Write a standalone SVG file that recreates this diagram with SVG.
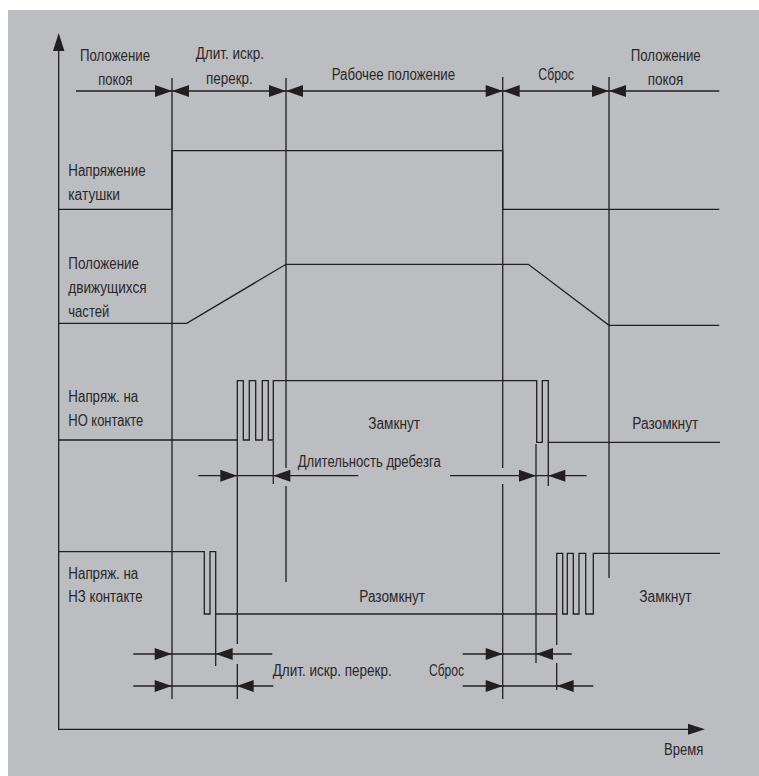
<svg xmlns="http://www.w3.org/2000/svg" xmlns:xlink="http://www.w3.org/1999/xlink" width="759" height="776" viewBox="0 0 759 776">
<style>
.ln{fill:none;stroke:#231f20;stroke-width:1.3}
.vl{fill:none;stroke:#2b2829;stroke-width:1.4}
.t{font-family:"Liberation Sans",Arial,sans-serif;font-size:16px;fill:#2a2728}
.ah{fill:#231f20}
</style>
<defs>
<path id="ar" class="ah" d="M0,0 L-17,-6 L-17,6 Z"/>
<path id="al" class="ah" d="M0,0 L17,-6 L17,6 Z"/>
</defs>
<rect x="8" y="10" width="751" height="766" fill="#bcbdc1"/>

<g id="axes">
<path class="ln" d="M58.7,50 V729.3 H690"/>
<polygon class="ah" points="58.7,33 53,51 64.4,51"/>
<polygon class="ah" points="705,729.3 688,723.8 688,734.8"/>
<text class="t" x="664" y="755" textLength="39.3" lengthAdjust="spacingAndGlyphs">Время</text>
</g>

<g id="phases">
<path class="ln" d="M76,91 H719.3"/>
<use href="#ar" transform="translate(172,91)"/>
<use href="#al" transform="translate(172,91)"/>
<use href="#ar" transform="translate(286,91)"/>
<use href="#al" transform="translate(286,91)"/>
<use href="#ar" transform="translate(502.7,91)"/>
<use href="#al" transform="translate(502.7,91)"/>
<use href="#ar" transform="translate(609,91)"/>
<use href="#al" transform="translate(609,91)"/>
<text class="t" x="80" y="61" textLength="70" lengthAdjust="spacingAndGlyphs">Положение</text>
<text class="t" x="98.3" y="85" textLength="34.3" lengthAdjust="spacingAndGlyphs">покоя</text>
<text class="t" x="195.7" y="59" textLength="68.3" lengthAdjust="spacingAndGlyphs">Длит. искр.</text>
<text class="t" x="206" y="84" textLength="46.7" lengthAdjust="spacingAndGlyphs">перекр.</text>
<text class="t" x="331.7" y="80" textLength="123.3" lengthAdjust="spacingAndGlyphs">Рабочее положение</text>
<text class="t" x="538.3" y="80" textLength="35.7" lengthAdjust="spacingAndGlyphs">Сброс</text>
<text class="t" x="630.7" y="61" textLength="70" lengthAdjust="spacingAndGlyphs">Положение</text>
<text class="t" x="647.7" y="85" textLength="35.6" lengthAdjust="spacingAndGlyphs">покоя</text>
</g>

<g id="verticals">
<path class="vl" d="M172,78 V699"/>
<path class="vl" d="M286,78 V468 M286,486 V582"/>
<path class="vl" d="M502.7,77 V468 M502.7,484 V699"/>
<path class="vl" d="M609,77 V578"/>
<path class="ln" d="M237.3,440 V644 M237.3,664 V699"/>
<path class="ln" d="M273.3,441 V484"/>
<path class="ln" d="M536,444 V663"/>
<path class="ln" d="M548.3,442 V486"/>
<path class="ln" d="M215.7,614 V666"/>
<path class="ln" d="M556.7,614 V645 M556.7,663 V690"/>
</g>

<g id="coil">
<path class="ln" d="M58.7,209.3 H172 V150.7 H502.7 V209.3 H719.3"/>
<text class="t" x="68.3" y="176" textLength="77.3" lengthAdjust="spacingAndGlyphs">Напряжение</text>
<text class="t" x="68.3" y="200" textLength="51.7" lengthAdjust="spacingAndGlyphs">катушки</text>
</g>

<g id="moving">
<path class="ln" d="M58.7,323.3 H186.7 L286,264.3 H528.3 L609,325.3 H719.3"/>
<text class="t" x="68.3" y="269.3" textLength="70.7" lengthAdjust="spacingAndGlyphs">Положение</text>
<text class="t" x="68.3" y="293.3" textLength="78.3" lengthAdjust="spacingAndGlyphs">движущихся</text>
<text class="t" x="68.3" y="316.7" textLength="41" lengthAdjust="spacingAndGlyphs">частей</text>
</g>

<g id="no-contact">
<path class="ln" d="M58.7,440 H237.3 V380.7 H243.3 V440 H249.3 V380.7 H255.7 V440 H262.3 V380.7 H268.3 V440 H273.3 V380.7 H536.7 V442.3 H542.3 V380.7 H548.3 V442.3 H720"/>
<text class="t" x="68.3" y="401.7" textLength="70" lengthAdjust="spacingAndGlyphs">Напряж. на</text>
<text class="t" x="68.3" y="425.7" textLength="75" lengthAdjust="spacingAndGlyphs">НО контакте</text>
<text class="t" x="368.3" y="429.3" textLength="51.7" lengthAdjust="spacingAndGlyphs">Замкнут</text>
<text class="t" x="632.3" y="429.3" textLength="66" lengthAdjust="spacingAndGlyphs">Разомкнут</text>
</g>

<g id="bounce-dim">
<path class="ln" d="M198.3,475.7 H358.3 M450,475.7 H586.7"/>
<use href="#ar" transform="translate(237.3,475.7)"/>
<use href="#al" transform="translate(273.3,475.7)"/>
<use href="#ar" transform="translate(536,475.7)"/>
<use href="#al" transform="translate(548.3,475.7)"/>
<text class="t" x="297.7" y="467" textLength="143" lengthAdjust="spacingAndGlyphs">Длительность дребезга</text>
</g>

<g id="nc-contact">
<path class="ln" d="M58.7,551.7 H204.3 V614 H210 V551.7 H215.7 V614 H556.7 V553.3 H562.7 V614 H567.3 V553.3 H573.3 V614 H579 V553.3 H585.7 V614 H593.3 V553.3 H720"/>
<text class="t" x="68.3" y="579" textLength="70" lengthAdjust="spacingAndGlyphs">Напряж. на</text>
<text class="t" x="68.3" y="602.3" textLength="74.3" lengthAdjust="spacingAndGlyphs">НЗ контакте</text>
<text class="t" x="359.3" y="602.3" textLength="65.7" lengthAdjust="spacingAndGlyphs">Разомкнут</text>
<text class="t" x="639.3" y="602.3" textLength="52.3" lengthAdjust="spacingAndGlyphs">Замкнут</text>
</g>

<g id="bottom-dims">
<path class="ln" d="M133.3,654 H272.3 M133.3,686 H273.3 M462.7,654 H571.7 M462.7,686 H593.3"/>
<use href="#ar" transform="translate(171.7,654)"/>
<use href="#al" transform="translate(215.7,654)"/>
<use href="#ar" transform="translate(171.7,686)"/>
<use href="#al" transform="translate(236.7,686)"/>
<use href="#ar" transform="translate(502.7,654)"/>
<use href="#al" transform="translate(536,654)"/>
<use href="#ar" transform="translate(502.7,686)"/>
<use href="#al" transform="translate(556.7,686)"/>
<text class="t" x="272.7" y="676" textLength="119" lengthAdjust="spacingAndGlyphs">Длит. искр. перекр.</text>
<text class="t" x="429" y="676" textLength="35" lengthAdjust="spacingAndGlyphs">Сброс</text>
</g>
</svg>
